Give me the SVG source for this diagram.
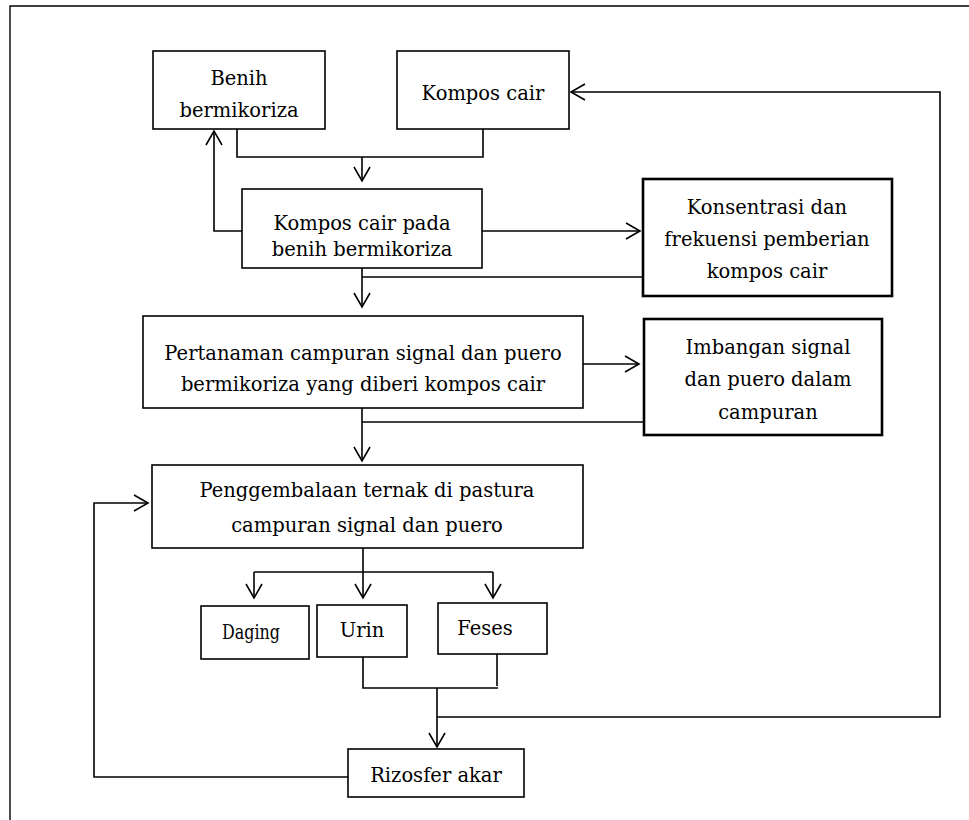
<svg xmlns="http://www.w3.org/2000/svg" width="969" height="820" viewBox="0 0 969 820">
<defs>
<style>
.box{fill:#fff;stroke:#000;stroke-width:1.6}
.thick{stroke-width:2.6}
.t{font-family:"DejaVu Serif","Liberation Serif",serif;font-size:19.5px;fill:#000;text-anchor:middle}
.c{fill:none;stroke:#000;stroke-width:1.6}
</style>
<marker id="ah" markerUnits="userSpaceOnUse" markerWidth="20" markerHeight="20" viewBox="-16 -10 18 20" refX="0" refY="0" orient="auto">
<path d="M-14,-8 L0,0 L-14,8" fill="none" stroke="#000" stroke-width="1.6"/>
</marker>
</defs>
<rect width="969" height="820" fill="#fff"/>
<path d="M10,820 V6 H969" fill="none" stroke="#000" stroke-width="1.4"/>

<g id="connectors">
<path class="c" d="M237,129 V157 H483 V129"/>
<path class="c" d="M362,157 V181" marker-end="url(#ah)"/>
<path class="c" d="M242,231 H214 V131" marker-end="url(#ah)"/>
<path class="c" d="M482,231 H640" marker-end="url(#ah)"/>
<path class="c" d="M362,268 V307" marker-end="url(#ah)"/>
<path class="c" d="M362,277 H643"/>
<path class="c" d="M583,364 H639" marker-end="url(#ah)"/>
<path class="c" d="M362,408 V461" marker-end="url(#ah)"/>
<path class="c" d="M362,422 H644"/>
<path class="c" d="M363,548 V598" marker-end="url(#ah)"/>
<path class="c" d="M254,572 H493"/>
<path class="c" d="M254,572 V598" marker-end="url(#ah)"/>
<path class="c" d="M493,572 V598" marker-end="url(#ah)"/>
<path class="c" d="M363,657 V688 H498"/>
<path class="c" d="M497,654 V686"/>
<path class="c" d="M437,688 V747" marker-end="url(#ah)"/>
<path class="c" d="M437,717 H940 V92 H571" marker-end="url(#ah)"/>
<path class="c" d="M348,777 H94 V503 H148" marker-end="url(#ah)"/>
</g>

<g id="benih">
<rect class="box" x="153" y="51" width="172" height="78"/>
<text class="t" x="239" y="85">Benih</text>
<text class="t" x="239" y="117">bermikoriza</text>
</g>
<g id="kompos-cair">
<rect class="box" x="397" y="51" width="172" height="78"/>
<text class="t" x="483" y="100">Kompos cair</text>
</g>
<g id="kompos-pada-benih">
<rect class="box" x="242" y="189" width="240" height="79"/>
<text class="t" x="362" y="230">Kompos cair pada</text>
<text class="t" x="362" y="256">benih bermikoriza</text>
</g>
<g id="konsentrasi">
<rect class="box thick" x="643" y="179" width="249" height="117"/>
<text class="t" x="767" y="214">Konsentrasi dan</text>
<text class="t" x="767" y="246">frekuensi pemberian</text>
<text class="t" x="767" y="278">kompos cair</text>
</g>
<g id="pertanaman">
<rect class="box" x="143" y="316" width="440" height="92"/>
<text class="t" x="363" y="360">Pertanaman campuran signal dan puero</text>
<text class="t" x="363" y="391">bermikoriza yang diberi kompos cair</text>
</g>
<g id="imbangan">
<rect class="box thick" x="644" y="319" width="238" height="116"/>
<text class="t" x="768" y="354">Imbangan signal</text>
<text class="t" x="768" y="386">dan puero dalam</text>
<text class="t" x="768" y="419">campuran</text>
</g>
<g id="penggembalaan">
<rect class="box" x="152" y="465" width="431" height="83"/>
<text class="t" x="367" y="497">Penggembalaan ternak di pastura</text>
<text class="t" x="367" y="532">campuran signal dan puero</text>
</g>
<g id="daging">
<rect class="box" x="201" y="606" width="108" height="53"/>
<text class="t" x="251" y="639" textLength="58" lengthAdjust="spacingAndGlyphs">Daging</text>
</g>
<g id="urin">
<rect class="box" x="317" y="605" width="90" height="52" stroke-width="2"/>
<text class="t" x="362" y="637">Urin</text>
</g>
<g id="feses">
<rect class="box" x="438" y="603" width="109" height="51"/>
<text class="t" x="485" y="635">Feses</text>
</g>
<g id="rizosfer">
<rect class="box" x="348" y="749" width="176" height="48"/>
<text class="t" x="436" y="782">Rizosfer akar</text>
</g>
</svg>
